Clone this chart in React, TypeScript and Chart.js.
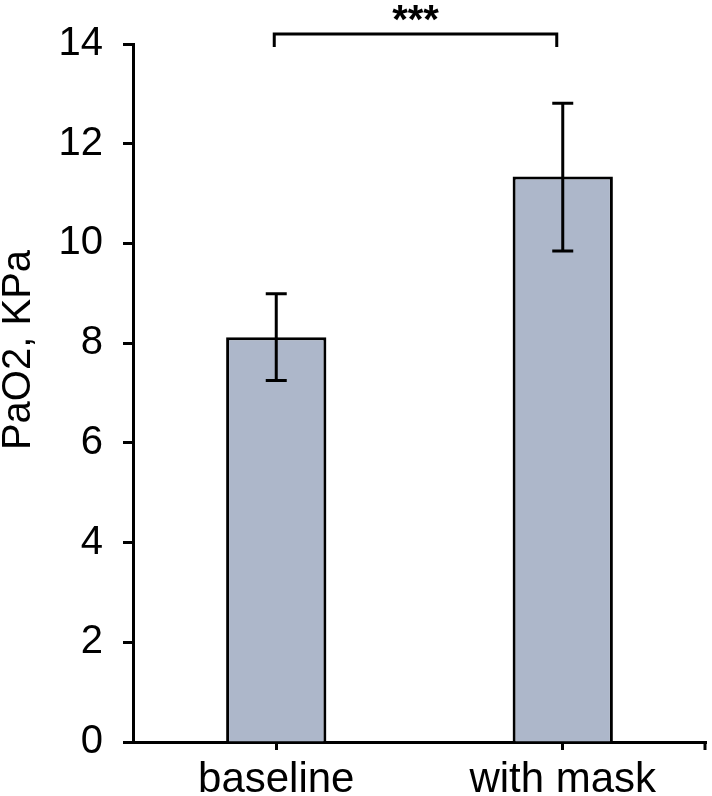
import React, { useEffect, useRef } from "react";
import { Chart, registerables } from "chart.js";

Chart.register(...registerables);

const categories = ["baseline", "with mask"];
const meanValues = [8.12, 11.34];
const errorLow = [7.25, 9.85];
const errorHigh = [8.99, 12.81];
const yTicks = [0, 2, 4, 6, 8, 10, 12, 14];
const yTitle = "PaO2, KPa";
const significance = "***";

const FONT = "'Liberation Sans', Arial, Helvetica, sans-serif";

const overlayPlugin = {
  id: "overlay",
  afterDatasetsDraw(chart: any) {
    const ctx = chart.ctx;
    const x = chart.scales.x;
    const y = chart.scales.y;
    ctx.save();
    ctx.strokeStyle = "#000";
    ctx.lineWidth = 3;
    ctx.lineCap = "butt";
    // error bars
    for (let i = 0; i < categories.length; i++) {
      const cx = x.getPixelForValue(i);
      const yl = y.getPixelForValue(errorLow[i]);
      const yh = y.getPixelForValue(errorHigh[i]);
      ctx.beginPath();
      ctx.moveTo(cx, yl);
      ctx.lineTo(cx, yh);
      ctx.moveTo(cx - 10.5, yh);
      ctx.lineTo(cx + 10.5, yh);
      ctx.moveTo(cx - 10.5, yl);
      ctx.lineTo(cx + 10.5, yl);
      ctx.stroke();
    }
    // right-edge tick on x axis
    const bottom = chart.chartArea.bottom;
    ctx.beginPath();
    ctx.moveTo(chart.chartArea.right - 1, bottom);
    ctx.lineTo(chart.chartArea.right - 1, bottom + 8);
    ctx.stroke();
    // significance bracket
    const x1 = x.getPixelForValue(0) - 2;
    const x2 = x.getPixelForValue(1) - 6;
    const yb = y.getPixelForValue(14.2);
    const yd = y.getPixelForValue(13.94);
    ctx.beginPath();
    ctx.moveTo(x1, yd);
    ctx.lineTo(x1, yb);
    ctx.lineTo(x2, yb);
    ctx.lineTo(x2, yd);
    ctx.stroke();
    ctx.fillStyle = "#000";
    ctx.font = `bold 40px ${FONT}`;
    ctx.textAlign = "center";
    ctx.textBaseline = "alphabetic";
    ctx.fillText(significance, (x1 + x2) / 2, yb - 1);
    // y title
    ctx.translate(30, 350);
    ctx.rotate(-Math.PI / 2);
    ctx.font = `40px ${FONT}`;
    ctx.fillText(yTitle, 0, 0);
    ctx.restore();
  },
};

export default function App() {
  const ref = useRef<HTMLCanvasElement | null>(null);
  useEffect(() => {
    if (!ref.current) return;
    const chart = new Chart(ref.current, {
      type: "bar",
      data: {
        labels: categories,
        datasets: [
          {
            data: meanValues,
            backgroundColor: "#adb7ca",
            borderColor: "#000",
            borderWidth: 3,
            barPercentage: 0.35,
            categoryPercentage: 1,
          },
        ],
      },
      options: {
        responsive: false,
        animation: false,
        devicePixelRatio: 1,
        layout: { padding: { left: 0, right: 6, top: 42, bottom: 0 } },
        plugins: { legend: { display: false }, tooltip: { enabled: false }, title: { display: false } },
        scales: {
          x: {
            offset: true,
            afterFit: (s: any) => {
              s.height = 54;
            },
            grid: {
              offset: false,
              drawOnChartArea: false,
              drawTicks: true,
              tickLength: 8,
              tickWidth: 3,
              tickColor: "#000",
            },
            border: { display: true, color: "#000", width: 3 },
            ticks: {
              color: "#000",
              font: { family: FONT, size: 42 },
              padding: 5,
              maxRotation: 0,
              autoSkip: false,
            },
          },
          y: {
            min: 0,
            max: 14,
            afterFit: (s: any) => {
              s.width = 133;
            },
            afterBuildTicks: (s: any) => {
              s.ticks = yTicks.map((v) => ({ value: v }));
            },
            grid: {
              drawOnChartArea: false,
              drawTicks: true,
              tickLength: 10,
              tickWidth: 3,
              tickColor: "#000",
            },
            border: { display: true, color: "#000", width: 3 },
            ticks: {
              color: "#000",
              font: { family: FONT, size: 40 },
              padding: 20,
            },
          },
        },
      },
      plugins: [overlayPlugin],
    });
    return () => chart.destroy();
  }, []);
  return (
    <div style={{ position: "absolute", left: 0, top: 0, width: 712, height: 796, background: "#fff" }}>
      <canvas ref={ref} width={712} height={796} style={{ display: "block" }} />
    </div>
  );
}
